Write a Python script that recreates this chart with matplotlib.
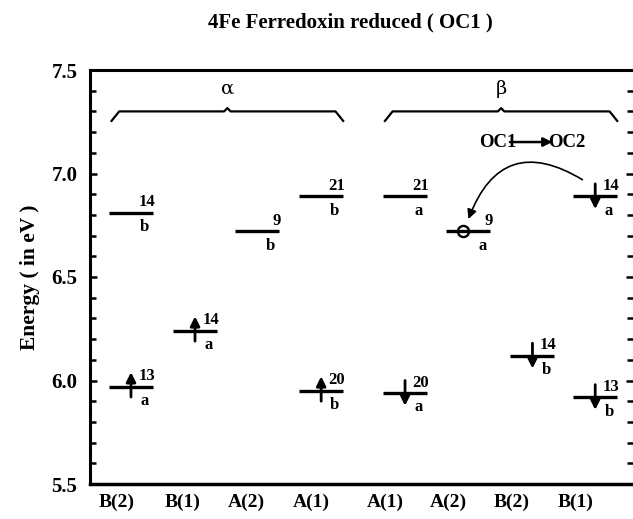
import numpy as np
import matplotlib
matplotlib.use('Agg')
import matplotlib.pyplot as plt
from matplotlib.ticker import MultipleLocator, FormatStrFormatter

plt.rcParams['font.family'] = ['Liberation Serif', 'DejaVu Serif']
plt.rcParams['font.weight'] = 'bold'

# categories (alpha spin block, then beta spin block)
categories = ['B(2)', 'B(1)', 'A(2)', 'A(1)', 'A(1)', 'A(2)', 'B(2)', 'B(1)']

# orbital levels
level_col = [0, 0, 1, 2, 3, 3, 4, 4, 5, 6, 7, 7]
level_energy = [6.81, 5.97, 6.24, 6.72, 6.89, 5.95,
                6.89, 5.94, 6.72, 6.12, 6.89, 5.92]
level_num = ['14', '13', '14', '9', '21', '20',
             '21', '20', '9', '14', '14', '13']
level_sym = ['b', 'a', 'a', 'b', 'b', 'b',
             'a', 'a', 'a', 'b', 'a', 'b']
level_occ = ['', 'up', 'up', '', '', 'up',
             '', 'down', 'hole', 'down', 'down', 'down']

# layout
col_x = np.array([0, 1, 1.97, 2.97, 4.28, 5.27, 6.27, 7.25])
tick_shift = np.array([-0.22, -0.2, -0.17, -0.16, -0.31, -0.32, -0.32, -0.3])
hw = 0.344

fig = plt.figure(figsize=(6.33, 5.19), dpi=100)
ax = fig.add_axes([90/633, 35/519, 543/633, 414/519])

for c, e, n, s, occ in zip(level_col, level_energy, level_num, level_sym, level_occ):
    x = col_x[c]
    ax.plot([x - hw, x + hw], [e, e], color='k', lw=2.4, solid_capstyle='butt')
    ax.text(x + hw + 0.03, e + 0.05, n, ha='right', va='center', fontsize=12)
    ax.text(x + hw - 0.13, e - 0.07, s, ha='center', va='center', fontsize=12)
    if occ == 'up':
        ax.annotate('', xy=(x, e + 0.07), xytext=(x, e - 0.05),
                    arrowprops=dict(arrowstyle='-|>', lw=2, color='k',
                                    mutation_scale=14, shrinkA=0, shrinkB=0))
    elif occ == 'down':
        ax.annotate('', xy=(x, e - 0.062), xytext=(x, e + 0.06),
                    arrowprops=dict(arrowstyle='-|>', lw=2, color='k',
                                    mutation_scale=14, shrinkA=0, shrinkB=0))
    elif occ == 'hole':
        ax.plot([x - 0.08], [e], marker='o', ms=8, mfc='none', mec='k', mew=1.7)

# spin brackets
def bracket(x0, x1, label):
    yb, yt, yp = 7.254, 7.300, 7.316
    mid = (x0 + x1) / 2
    ax.plot([x0, x0 + 0.12, mid - 0.05, mid, mid + 0.05, x1 - 0.12, x1],
            [yb, yt, yt, yp, yt, yt, yb], color='k', lw=1.6)
    ax.text(mid, 7.41, label, ha='center', va='center', fontsize=14,
            fontweight='normal', family='DejaVu Serif')

bracket(col_x[0] - hw + 0.04, col_x[3] + hw, 'α')
bracket(col_x[4] - hw + 0.03, col_x[7] + hw, 'β')

# OC1 -> OC2 annotation
ax.text(6.02, 7.152, 'OC1', ha='right', va='center', fontsize=13.5)
ax.text(6.52, 7.152, 'OC2', ha='left', va='center', fontsize=13.5)
ax.annotate('', xy=(6.58, 7.152), xytext=(5.92, 7.152),
            arrowprops=dict(arrowstyle='-|>', lw=1.8, color='k',
                            mutation_scale=13, shrinkA=0, shrinkB=0))
ax.annotate('', xy=(5.27, 6.78), xytext=(7.05, 6.97),
            arrowprops=dict(arrowstyle='-|>', lw=1.2, color='k',
                            mutation_scale=14, shrinkA=0, shrinkB=0,
                            connectionstyle='arc3,rad=0.6'))

ax.set_xlim(-0.64, 7.84)
ax.set_ylim(5.5, 7.5)
ax.set_xticks(col_x + tick_shift)
ax.set_xticklabels(categories, fontsize=14)
ax.tick_params(axis='x', length=0, pad=7)
ax.yaxis.set_major_locator(MultipleLocator(0.5))
ax.yaxis.set_minor_locator(MultipleLocator(0.1))
ax.yaxis.set_major_formatter(FormatStrFormatter('%.1f'))
ax.tick_params(axis='y', which='both', direction='in', right=True,
               labelsize=15, width=1.8, pad=9)
ax.tick_params(axis='y', which='major', length=5)
ax.tick_params(axis='y', which='minor', length=4)
for lab in ax.get_yticklabels() + ax.get_xticklabels():
    lab.set_fontweight('bold')
ax.spines['right'].set_visible(False)
ax.spines['left'].set_linewidth(2.2)
ax.spines['bottom'].set_linewidth(2.5)
ax.spines['top'].set_linewidth(2.2)

ax.set_ylabel('Energy ( in eV )', fontsize=15.5, fontweight='bold', labelpad=8)
fig.text(350/633, 1 - 22/519, '4Fe Ferredoxin reduced ( OC1 )',
         ha='center', va='center', fontsize=15, fontweight='bold')

fig.savefig('out.png', dpi=100)
